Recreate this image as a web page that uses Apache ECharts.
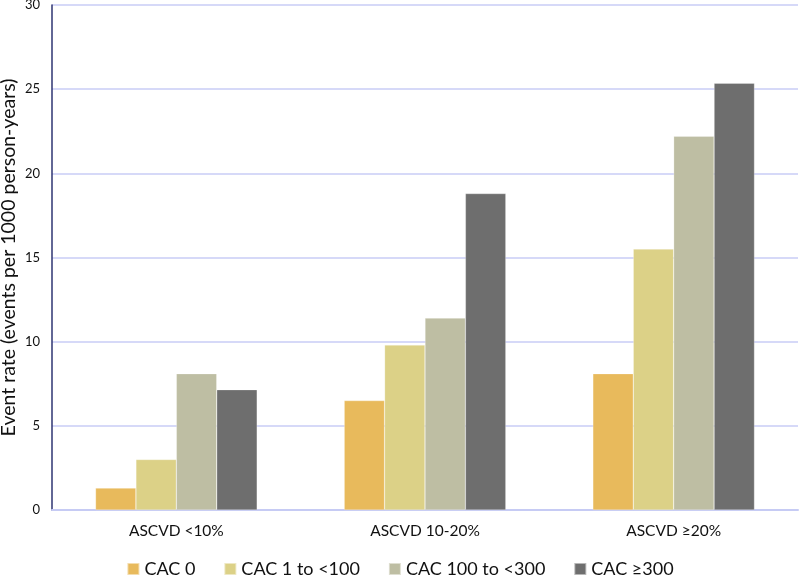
<!DOCTYPE html>
<html>
<head>
<meta charset="utf-8">
<script src="https://cdn.jsdelivr.net/npm/echarts@6/dist/echarts.min.js"></script>
<style>
  html, body { margin: 0; padding: 0; background: #fff; }
  #main { width: 800px; height: 578px; }
</style>
</head>
<body>
<div id="main"></div>
<script>
var categories = ['ASCVD <10%', 'ASCVD 10-20%', 'ASCVD \u226520%'];
var seriesNames = ['CAC 0', 'CAC 1 to <100', 'CAC 100 to <300', 'CAC \u2265300'];
var cac0 = [1.3, 6.5, 8.1];
var cac1to100 = [3.0, 9.8, 15.5];
var cac100to300 = [8.1, 11.4, 22.2];
var cac300 = [7.15, 18.8, 25.35];
var colors = ['#E8BA5C', '#DCD187', '#BEBEA3', '#6E6E6E'];

var font = 'Lato, "Open Sans", sans-serif';
var values = [cac0, cac1to100, cac100to300, cac300];

var chart = echarts.init(document.getElementById('main'));
chart.setOption({
  animation: false,
  textStyle: { fontFamily: font },
  grid: { left: 52, right: 2, top: 5, bottom: 68, outerBoundsMode: 'none' },
  legend: {
    bottom: -5,
    left: 'center',
    itemWidth: 12,
    itemHeight: 12,
    itemGap: 28,
    icon: 'rect',
    textStyle: { fontSize: 18, color: '#111', fontFamily: font },
    data: seriesNames
  },
  xAxis: {
    type: 'category',
    data: categories,
    axisLine: { lineStyle: { color: '#C6CBF4', width: 2 } },
    axisTick: { show: false },
    axisLabel: { fontSize: 15.5, color: '#111', margin: 13 }
  },
  yAxis: {
    type: 'value',
    min: 0,
    max: 30,
    interval: 5,
    name: 'Event rate (events per 1000 person-years)',
    nameLocation: 'middle',
    nameGap: 33,
    nameMoveOverlap: false,
    nameTextStyle: { fontSize: 19.5, color: '#111' },
    axisLine: { show: true, lineStyle: { color: '#2E3572', width: 1.5 } },
    axisTick: { show: false },
    axisLabel: { fontSize: 13, color: '#111', margin: 12 },
    splitLine: { lineStyle: { color: '#C8CCF6', width: 1.5 } }
  },
  series: seriesNames.map(function (name, i) {
    return {
      name: name,
      type: 'bar',
      data: values[i],
      barGap: '0%',
      barCategoryGap: '35%',
      itemStyle: { color: colors[i], borderColor: 'rgba(255,255,255,0.5)', borderWidth: 0.5 }
    };
  })
});
</script>
</body>
</html>
